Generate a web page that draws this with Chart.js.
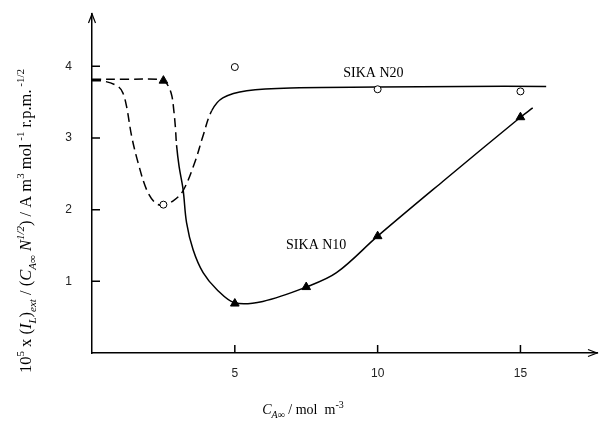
<!DOCTYPE html>
<html>
<head>
<meta charset="utf-8">
<script src="https://cdn.jsdelivr.net/npm/chart.js@4/dist/chart.umd.min.js"></script>
<style>
  html, body { margin: 0; padding: 0; background: #fff; }
  #wrap { width: 603px; height: 425px; }
</style>
</head>
<body>
<div id="wrap"><canvas id="chart" width="603" height="425"></canvas></div>
<script>
// measured points
const n20X = [2.5, 5, 10, 15];
const n20Y = [2.07, 3.99, 3.68, 3.65];
const n10X = [2.5, 5, 7.5, 10, 15];
const n10Y = [3.80, 0.69, 0.92, 1.63, 3.29];

// fitted curves
const n20CurveX = [0, 0.45, 0.91, 1.08, 1.21, 1.39, 1.61, 1.91, 2.20, 2.47, 2.83, 3.18, 3.60, 3.88, 4.19, 4.58, 5.42, 7.27, 10, 13, 15.9];
const n20CurveY = [3.80, 3.79, 3.72, 3.63, 3.44, 3.02, 2.66, 2.28, 2.10, 2.06, 2.12, 2.26, 2.66, 3.02, 3.38, 3.56, 3.66, 3.70, 3.71, 3.72, 3.72];
const n10CurveX = [0, 1.2, 2.3, 2.55, 2.70, 2.80, 2.86, 2.92, 2.96, 3.05, 3.19, 3.31, 3.54, 3.89, 4.36, 5.0, 5.98, 7.5, 8.56, 10, 12.3, 15, 15.43];
const n10CurveY = [3.82, 3.82, 3.82, 3.79, 3.70, 3.58, 3.40, 3.15, 2.90, 2.60, 2.28, 1.82, 1.44, 1.12, 0.89, 0.70, 0.72, 0.92, 1.12, 1.63, 2.40, 3.29, 3.42];

const xTicks = [5, 10, 15];
const yTicks = [1, 2, 3, 4];

const n20DashEnd = 4.19;
const n10DashEnd = 2.96;

function pts(xs, ys) {
  return xs.map((x, i) => ({ x: x, y: ys[i] }));
}

const serif = '"Liberation Serif", "DejaVu Serif", serif';

function drawRich(ctx, parts, size, cx, cy) {
  const fontFor = (s) => {
    const small = s.indexOf('sub') >= 0 || s.indexOf('sup') >= 0;
    const it = s.charAt(0) === 'i';
    return (it ? 'italic ' : '') + (small ? Math.round(size * 0.68) : size) + 'px ' + serif;
  };
  let total = 0;
  parts.forEach(p => { ctx.font = fontFor(p[1]); total += ctx.measureText(p[0]).width; });
  let x = cx - total / 2;
  ctx.textAlign = 'left';
  ctx.textBaseline = 'alphabetic';
  parts.forEach(p => {
    ctx.font = fontFor(p[1]);
    let dy = 0;
    if (p[1].indexOf('sub') >= 0) dy = size * 0.3;
    if (p[1].indexOf('sup') >= 0) dy = -size * 0.42;
    ctx.fillText(p[0], x, cy + dy);
    x += ctx.measureText(p[0]).width;
  });
}

const yTitle = [
  ['10', 'n'], ['5', 'sup'], [' x (', 'n'], ['I', 'i'], ['L', 'isub'], [')', 'n'], ['ext', 'isub'],
  [' / (', 'n'], ['C', 'i'], ['A\u221E', 'isub'], [' N', 'i'], ['1/2', 'isup'], [') / A m', 'n'], ['3', 'sup'],
  [' mol', 'n'], [' -1', 'sup'], [' r.p.m.', 'n'], [' -1/2', 'sup']
];
const xTitle = [['C', 'i'], ['A\u221E', 'isub'], [' / mol  m', 'n'], ['-3', 'sup']];

const decor = {
  id: 'decor',
  afterDraw(chart) {
    const ctx = chart.ctx;
    const xs = chart.scales.x, ys = chart.scales.y;
    const area = chart.chartArea;
    ctx.save();
    ctx.strokeStyle = '#000';
    ctx.fillStyle = '#000';
    ctx.lineWidth = 1.5;
    // inward ticks
    ctx.beginPath();
    yTicks.forEach(v => {
      const py = ys.getPixelForValue(v);
      ctx.moveTo(area.left, py); ctx.lineTo(area.left + 8, py);
    });
    xTicks.forEach(v => {
      const px = xs.getPixelForValue(v);
      ctx.moveTo(px, area.bottom); ctx.lineTo(px, area.bottom - 8);
    });
    ctx.stroke();
    // arrow heads
    ctx.lineWidth = 1.2;
    ctx.beginPath();
    ctx.moveTo(area.left - 3.5, area.top + 9); ctx.lineTo(area.left, area.top); ctx.lineTo(area.left + 3.5, area.top + 9);
    ctx.moveTo(area.right - 9, area.bottom - 3.5); ctx.lineTo(area.right, area.bottom); ctx.lineTo(area.right - 9, area.bottom + 3.5);
    ctx.stroke();

    // axis titles
    ctx.save();
    ctx.translate(26, 221);
    ctx.rotate(-Math.PI / 2);
    drawRich(ctx, yTitle, 16.5, 0, 5);
    ctx.restore();
    drawRich(ctx, xTitle, 14, 303, 414);

    // curve labels
    ctx.font = '14px ' + serif;
    ctx.textAlign = 'center';
    ctx.textBaseline = 'middle';
    ctx.fillText('SIKA N20', xs.getPixelForValue(9.85), ys.getPixelForValue(3.9));
    ctx.fillText('SIKA N10', xs.getPixelForValue(7.85), ys.getPixelForValue(1.5));
    ctx.restore();
  }
};

new Chart(document.getElementById('chart'), {
  type: 'scatter',
  data: {
    datasets: [
      {
        label: 'SIKA N20 data',
        data: pts(n20X, n20Y),
        pointStyle: 'circle',
        pointRadius: 3.5,
        backgroundColor: '#fff',
        borderColor: '#000',
        borderWidth: 1,
        showLine: false
      },
      {
        label: 'SIKA N10 data',
        data: pts(n10X, n10Y),
        pointStyle: 'triangle',
        pointRadius: 5,
        backgroundColor: '#000',
        borderColor: '#000',
        borderWidth: 1,
        showLine: false
      },
      {
        label: 'SIKA N20 fit',
        data: pts(n20CurveX, n20CurveY),
        showLine: true,
        pointRadius: 0,
        borderColor: '#000',
        borderWidth: 1.5,
        tension: 0.35,
        segment: {
          borderDash: ctx => ctx.p0.parsed.x < n20DashEnd ? [9, 5] : undefined
        }
      },
      {
        label: 'SIKA N10 fit',
        data: pts(n10CurveX, n10CurveY),
        showLine: true,
        pointRadius: 0,
        borderColor: '#000',
        borderWidth: 1.5,
        tension: 0.35,
        segment: {
          borderDash: ctx => ctx.p0.parsed.x < n10DashEnd ? [9, 5] : undefined
        }
      }
    ]
  },
  options: {
    responsive: false,
    animation: false,
    layout: { padding: { left: 0, top: 14, right: 0, bottom: 0 } },
    plugins: { legend: { display: false }, tooltip: { enabled: false } },
    scales: {
      x: {
        type: 'linear',
        min: 0,
        max: 17.68,
        afterBuildTicks: s => { s.ticks = xTicks.map(v => ({ value: v })); },
        afterFit: s => { s.height = 72; s.paddingLeft = 0; s.paddingRight = 0; },
        grid: { display: false, drawTicks: false },
        border: { display: true, color: '#000', width: 1.5 },
        ticks: { padding: 13, color: '#222', font: { family: '"Liberation Sans", Arial, sans-serif', size: 12 } }
      },
      y: {
        type: 'linear',
        min: 0,
        max: 4.73,
        afterBuildTicks: s => { s.ticks = yTicks.map(v => ({ value: v })); },
        afterFit: s => { s.width = 92; s.paddingTop = 0; s.paddingBottom = 0; },
        grid: { display: false, drawTicks: false },
        border: { display: true, color: '#000', width: 1.5 },
        ticks: { padding: 20, color: '#222', font: { family: '"Liberation Sans", Arial, sans-serif', size: 12 } }
      }
    }
  },
  plugins: [decor]
});
</script>
</body>
</html>
